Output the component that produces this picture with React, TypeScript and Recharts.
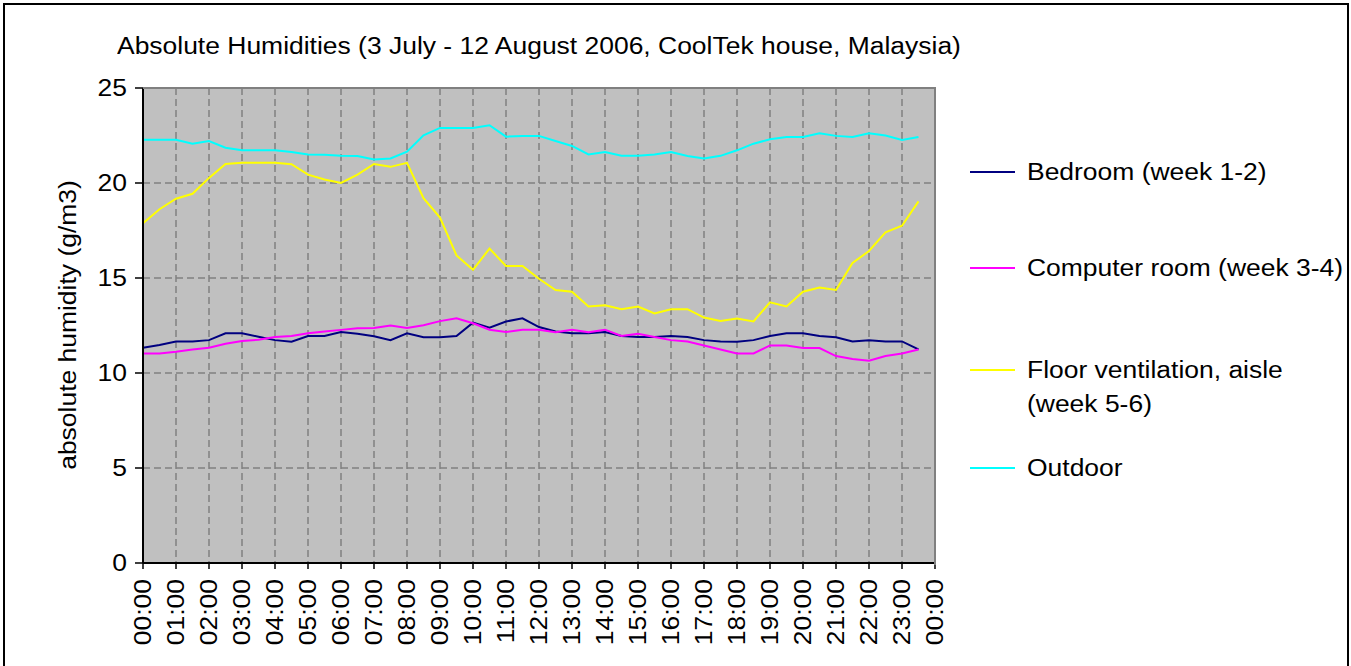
import React from 'react';
import { LineChart, Line, XAxis, YAxis, CartesianGrid } from 'recharts';

// half-hour categories, the last 00:00 closes the day and has no values
const times = [
  '00:00', '00:30', '01:00', '01:30', '02:00', '02:30', '03:00', '03:30',
  '04:00', '04:30', '05:00', '05:30', '06:00', '06:30', '07:00', '07:30',
  '08:00', '08:30', '09:00', '09:30', '10:00', '10:30', '11:00', '11:30',
  '12:00', '12:30', '13:00', '13:30', '14:00', '14:30', '15:00', '15:30',
  '16:00', '16:30', '17:00', '17:30', '18:00', '18:30', '19:00', '19:30',
  '20:00', '20:30', '21:00', '21:30', '22:00', '22:30', '23:00', '23:30',
  '00:00',
];

const bedroom = [
  11.33, 11.47, 11.66, 11.66, 11.73, 12.09, 12.09, 11.91, 11.73, 11.65, 11.95, 11.95,
  12.16, 12.07, 11.93, 11.73, 12.09, 11.88, 11.88, 11.95, 12.65, 12.39, 12.71, 12.88,
  12.42, 12.18, 12.09, 12.09, 12.16, 11.95, 11.89, 11.89, 11.95, 11.89, 11.73, 11.66,
  11.65, 11.73, 11.95, 12.09, 12.09, 11.95, 11.88, 11.66, 11.73, 11.66, 11.66, 11.24,
];

const computerRoom = [
  11.03, 11.03, 11.12, 11.24, 11.33, 11.54, 11.68, 11.75, 11.89, 11.95, 12.09, 12.18,
  12.27, 12.35, 12.37, 12.5, 12.37, 12.51, 12.73, 12.88, 12.62, 12.28, 12.16, 12.28,
  12.28, 12.14, 12.28, 12.14, 12.28, 11.95, 12.07, 11.89, 11.73, 11.66, 11.45, 11.24,
  11.03, 11.03, 11.45, 11.45, 11.31, 11.31, 10.89, 10.74, 10.65, 10.89, 11.03, 11.24,
];

const floorVent = [
  17.88, 18.62, 19.17, 19.43, 20.27, 21.0, 21.06, 21.06, 21.06, 20.99, 20.44, 20.18,
  20.0, 20.44, 21.0, 20.85, 21.06, 19.2, 18.18, 16.19, 15.43, 16.55, 15.63, 15.63,
  14.96, 14.37, 14.28, 13.5, 13.56, 13.36, 13.5, 13.13, 13.36, 13.36, 12.92, 12.74,
  12.87, 12.71, 13.72, 13.5, 14.28, 14.5, 14.37, 15.79, 16.42, 17.4, 17.75, 19.03,
];

const outdoor = [
  22.27, 22.27, 22.27, 22.07, 22.21, 21.86, 21.72, 21.72, 21.72, 21.63, 21.5, 21.49,
  21.43, 21.42, 21.24, 21.29, 21.65, 22.51, 22.9, 22.9, 22.9, 23.04, 22.44, 22.48,
  22.48, 22.21, 21.95, 21.5, 21.63, 21.43, 21.43, 21.5, 21.63, 21.42, 21.29, 21.43,
  21.72, 22.07, 22.3, 22.42, 22.42, 22.62, 22.48, 22.42, 22.62, 22.5, 22.27, 22.42,
];

const yTicks = [0, 5, 10, 15, 20, 25];

const series = [
  { key: 'bedroom', name: 'Bedroom (week 1-2)', color: '#000080', values: bedroom },
  { key: 'computer', name: 'Computer room (week 3-4)', color: '#FF00FF', values: computerRoom },
  { key: 'floor', name: 'Floor ventilation, aisle\n(week 5-6)', color: '#FFFF00', values: floorVent },
  { key: 'outdoor', name: 'Outdoor', color: '#00FFFF', values: outdoor },
];

const data = times.map((time, i) => {
  const row: any = { time };
  series.forEach((s) => {
    row[s.key] = s.values[i];
  });
  return row;
});

const FONT = '"Liberation Sans", Arial, sans-serif';
const SIZE = 23;
const STRETCH = 1.15;

const YTick = ({ x, y, payload }: any) => (
  <g transform={`translate(${x},${y})`}>
    <text textAnchor="end" dy="0.36em" transform={`scale(${STRETCH},1)`} fontFamily={FONT} fontSize={SIZE} fill="#000">
      {payload.value}
    </text>
  </g>
);

const XTick = ({ x, y, payload }: any) => (
  <g transform={`translate(${x},${y})`}>
    <text textAnchor="end" dy="0.36em" transform={`rotate(-90) scale(${STRETCH},1)`} fontFamily={FONT} fontSize={SIZE} fill="#000">
      {payload.value}
    </text>
  </g>
);

const legendRows = [172, 268, 370, 468];

const textStyle: React.CSSProperties = {
  fontFamily: FONT,
  fontSize: SIZE,
  color: '#000',
  whiteSpace: 'pre',
  transform: `scaleX(${STRETCH})`,
  transformOrigin: 'left center',
  lineHeight: '34px',
};

export default function App() {
  return (
    <div style={{ position: 'fixed', left: 0, top: 0, width: 1351, height: 666, overflow: 'hidden', background: '#fff' }}>
      <div style={{ position: 'absolute', left: 3, top: 3, width: 1342, height: 720, border: '2px solid #000' }} />

      <div style={{ ...textStyle, position: 'absolute', left: 117, top: 29 }}>
        Absolute Humidities (3 July - 12 August 2006, CoolTek house, Malaysia)
      </div>

      <div
        style={{
          ...textStyle,
          position: 'absolute',
          left: 68,
          top: 325,
          transformOrigin: 'center center',
          transform: `translate(-50%,-50%) rotate(-90deg) scaleX(${STRETCH})`,
        }}
      >
        absolute humidity (g/m3)
      </div>

      <div style={{ position: 'absolute', left: 0, top: 0 }}>
        <LineChart width={1351} height={666} data={data} margin={{ top: 88, right: 416, bottom: 0, left: 0 }}>
          <CartesianGrid
            fill="#C0C0C0"
            fillOpacity={1}
            stroke="#808080"
            strokeDasharray="7 4"
            strokeWidth={1.5}
            syncWithTicks
          />
          <XAxis
            dataKey="time"
            interval={1}
            height={103}
            tick={<XTick />}
            tickSize={6}
            tickMargin={10}
            axisLine={{ stroke: '#000', strokeWidth: 2 }}
            tickLine={{ stroke: '#000', strokeWidth: 1.5 }}
          />
          <YAxis
            domain={[0, 25]}
            ticks={yTicks}
            width={143}
            tick={<YTick />}
            tickSize={8}
            tickMargin={8}
            axisLine={{ stroke: '#000', strokeWidth: 2 }}
            tickLine={{ stroke: '#000', strokeWidth: 1.5 }}
          />
          {series.map((s) => (
            <Line
              key={s.key}
              dataKey={s.key}
              name={s.name}
              stroke={s.color}
              strokeWidth={2}
              dot={false}
              isAnimationActive={false}
            />
          ))}
        </LineChart>
      </div>

      <div
        style={{
          position: 'absolute',
          left: 143,
          top: 87,
          width: 791,
          height: 476,
          borderTop: '2px solid #808080',
          borderRight: '2px solid #808080',
          pointerEvents: 'none',
        }}
      />

      {series.map((s, i) => (
        <div key={s.key} style={{ position: 'absolute', left: 970, top: legendRows[i] - 17 }}>
          <div style={{ position: 'absolute', left: 0, top: 16, width: 45, height: 2, background: s.color }} />
          <div style={{ ...textStyle, position: 'absolute', left: 57, top: 0 }}>{s.name}</div>
        </div>
      ))}
    </div>
  );
}
